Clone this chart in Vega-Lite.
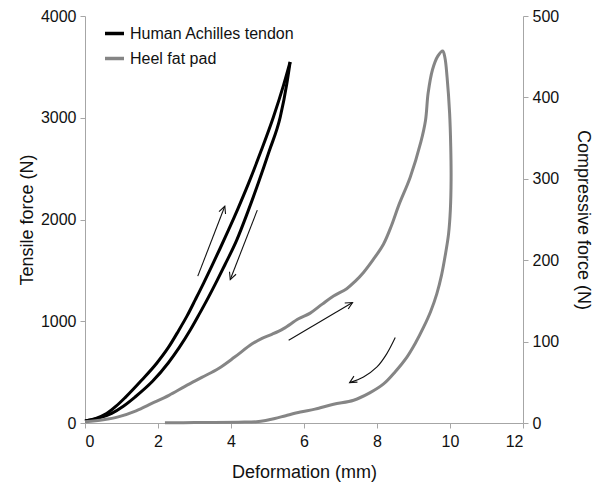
{
  "$schema": "https://vega.github.io/schema/vega-lite/v6.json",
  "width": 438,
  "height": 407,
  "autosize": {"type": "none"},
  "padding": {"left": 85, "top": 16, "right": 75, "bottom": 60},
  "background": "white",
  "config": {
    "font": "Liberation Sans",
    "view": {"stroke": null},
    "axis": {
      "grid": false,
      "domainColor": "#a6a6a6",
      "tickColor": "#a6a6a6",
      "tickSize": 5,
      "labelFontSize": 16,
      "labelColor": "#111111",
      "titleFontSize": 18,
      "titleFontWeight": "normal",
      "titleColor": "#111111",
      "labelPadding": 4,
      "format": "d"
    },
    "legend": {
      "orient": "none",
      "legendX": 18,
      "legendY": 6,
      "padding": 0,
      "labelFontSize": 16,
      "labelColor": "#111111",
      "labelLimit": 400,
      "symbolType": "stroke",
      "symbolSize": 361,
      "symbolStrokeWidth": 3.5,
      "labelOffset": 4,
      "rowPadding": 5,
      "title": null
    }
  },
  "datasets": {
    "tendon": [
      {"c": "load", "i": 0, "x": 0, "f": 20},
      {"c": "load", "i": 1, "x": 0.3, "f": 45},
      {"c": "load", "i": 2, "x": 0.59, "f": 92},
      {"c": "load", "i": 3, "x": 0.85, "f": 165},
      {"c": "load", "i": 4, "x": 1.1, "f": 250},
      {"c": "load", "i": 5, "x": 1.55, "f": 420},
      {"c": "load", "i": 6, "x": 1.97, "f": 590},
      {"c": "load", "i": 7, "x": 2.28, "f": 740},
      {"c": "load", "i": 8, "x": 2.56, "f": 905},
      {"c": "load", "i": 9, "x": 2.8, "f": 1055},
      {"c": "load", "i": 10, "x": 3.02, "f": 1210},
      {"c": "load", "i": 11, "x": 3.25, "f": 1375},
      {"c": "load", "i": 12, "x": 3.47, "f": 1540},
      {"c": "load", "i": 13, "x": 3.7, "f": 1715},
      {"c": "load", "i": 14, "x": 3.93, "f": 1895},
      {"c": "load", "i": 15, "x": 4.2, "f": 2115},
      {"c": "load", "i": 16, "x": 4.48, "f": 2355},
      {"c": "load", "i": 17, "x": 4.82, "f": 2670},
      {"c": "load", "i": 18, "x": 5.16, "f": 3005},
      {"c": "load", "i": 19, "x": 5.44, "f": 3320},
      {"c": "load", "i": 20, "x": 5.62, "f": 3548},
      {"c": "unload", "i": 0, "x": 5.62, "f": 3548},
      {"c": "unload", "i": 1, "x": 5.53, "f": 3336},
      {"c": "unload", "i": 2, "x": 5.35, "f": 3008},
      {"c": "unload", "i": 3, "x": 5.05, "f": 2675},
      {"c": "unload", "i": 4, "x": 4.75, "f": 2360},
      {"c": "unload", "i": 5, "x": 4.45, "f": 2065},
      {"c": "unload", "i": 6, "x": 4.16, "f": 1800},
      {"c": "unload", "i": 7, "x": 3.84, "f": 1560},
      {"c": "unload", "i": 8, "x": 3.61, "f": 1395},
      {"c": "unload", "i": 9, "x": 3.38, "f": 1235},
      {"c": "unload", "i": 10, "x": 3.13, "f": 1070},
      {"c": "unload", "i": 11, "x": 2.88, "f": 911},
      {"c": "unload", "i": 12, "x": 2.58, "f": 740},
      {"c": "unload", "i": 13, "x": 2.28, "f": 590},
      {"c": "unload", "i": 14, "x": 1.85, "f": 410},
      {"c": "unload", "i": 15, "x": 1.37, "f": 255},
      {"c": "unload", "i": 16, "x": 1.05, "f": 165},
      {"c": "unload", "i": 17, "x": 0.73, "f": 95},
      {"c": "unload", "i": 18, "x": 0.35, "f": 45},
      {"c": "unload", "i": 19, "x": 0, "f": 20}
    ],
    "fatpad": [
      {"i": 0, "x": 0, "f": 1.5},
      {"i": 1, "x": 0.5, "f": 4},
      {"i": 2, "x": 0.91, "f": 7.5},
      {"i": 3, "x": 1.4, "f": 15},
      {"i": 4, "x": 1.83, "f": 24},
      {"i": 5, "x": 2.3, "f": 34},
      {"i": 6, "x": 2.74, "f": 45},
      {"i": 7, "x": 3.2, "f": 56},
      {"i": 8, "x": 3.66, "f": 67},
      {"i": 9, "x": 4.1, "f": 81},
      {"i": 10, "x": 4.57, "f": 97},
      {"i": 11, "x": 4.85, "f": 104},
      {"i": 12, "x": 5.12, "f": 109},
      {"i": 13, "x": 5.44, "f": 116},
      {"i": 14, "x": 5.85, "f": 128},
      {"i": 15, "x": 6.17, "f": 135},
      {"i": 16, "x": 6.5, "f": 146},
      {"i": 17, "x": 6.81, "f": 156},
      {"i": 18, "x": 7.17, "f": 165},
      {"i": 19, "x": 7.4, "f": 174},
      {"i": 20, "x": 7.63, "f": 185},
      {"i": 21, "x": 7.9, "f": 201},
      {"i": 22, "x": 8.18, "f": 220},
      {"i": 23, "x": 8.4, "f": 243},
      {"i": 24, "x": 8.6, "f": 268},
      {"i": 25, "x": 8.91, "f": 302},
      {"i": 26, "x": 9.2, "f": 345},
      {"i": 27, "x": 9.33, "f": 372},
      {"i": 28, "x": 9.4, "f": 405},
      {"i": 29, "x": 9.52, "f": 434},
      {"i": 30, "x": 9.67, "f": 451},
      {"i": 31, "x": 9.8, "f": 457},
      {"i": 32, "x": 9.86, "f": 449},
      {"i": 33, "x": 9.92, "f": 425},
      {"i": 34, "x": 9.99, "f": 380},
      {"i": 35, "x": 10.02, "f": 340},
      {"i": 36, "x": 10.03, "f": 300},
      {"i": 37, "x": 10.01, "f": 262},
      {"i": 38, "x": 9.96, "f": 232},
      {"i": 39, "x": 9.87, "f": 206},
      {"i": 40, "x": 9.77, "f": 182},
      {"i": 41, "x": 9.64, "f": 159},
      {"i": 42, "x": 9.47, "f": 137},
      {"i": 43, "x": 9.28, "f": 118},
      {"i": 44, "x": 9.05, "f": 98},
      {"i": 45, "x": 8.82, "f": 81},
      {"i": 46, "x": 8.5, "f": 63},
      {"i": 47, "x": 8.18, "f": 48},
      {"i": 48, "x": 7.8, "f": 37},
      {"i": 49, "x": 7.36, "f": 28},
      {"i": 50, "x": 6.81, "f": 23},
      {"i": 51, "x": 6.3, "f": 17},
      {"i": 52, "x": 5.9, "f": 13.5},
      {"i": 53, "x": 5.5, "f": 9},
      {"i": 54, "x": 5.2, "f": 5.5},
      {"i": 55, "x": 4.95, "f": 3},
      {"i": 56, "x": 4.7, "f": 1.5},
      {"i": 57, "x": 4.2, "f": 1},
      {"i": 58, "x": 3.0, "f": 0.5},
      {"i": 59, "x": 2.19, "f": 0.3}
    ],
    "arrows": [
      {"a": 1, "i": 0, "x": 3.09, "f": 1443},
      {"a": 1, "i": 1, "x": 3.83, "f": 2130},
      {"a": 2, "i": 0, "x": 4.72, "f": 2092},
      {"a": 2, "i": 1, "x": 3.98, "f": 1410},
      {"a": 3, "i": 0, "x": 5.58, "f": 813},
      {"a": 3, "i": 1, "x": 7.33, "f": 1184},
      {"a": 4, "i": 0, "x": 8.5, "f": 840},
      {"a": 4, "i": 1, "x": 8.27, "f": 682},
      {"a": 4, "i": 2, "x": 8.0, "f": 551},
      {"a": 4, "i": 3, "x": 7.63, "f": 452},
      {"a": 4, "i": 4, "x": 7.25, "f": 397}
    ],
    "heads": [
      {"a": 1, "x": 3.83, "f": 2130},
      {"a": 2, "x": 3.98, "f": 1410},
      {"a": 3, "x": 7.33, "f": 1184},
      {"a": 4, "x": 7.25, "f": 397}
    ]
  },
  "encoding": {
    "x": {
      "field": "x",
      "type": "quantitative",
      "scale": {"domain": [0, 12], "nice": false, "zero": false},
      "axis": {
        "values": [0, 2, 4, 6, 8, 10, 12],
        "title": "Deformation (mm)",
        "titleY": 54,
        "titleBaseline": "alphabetic",
        "labelPadding": 5
      }
    }
  },
  "layer": [
    {
      "encoding": {
        "y": {
          "field": "f",
          "type": "quantitative",
          "scale": {"domain": [0, 4000], "nice": false},
          "axis": {
            "orient": "left",
            "values": [0, 1000, 2000, 3000, 4000],
            "title": "Tensile force (N)",
            "titleAngle": -90,
            "titleX": -58,
            "titleY": 203.5,
            "titleBaseline": "middle",
            "titleAlign": "center"
          }
        }
      },
      "layer": [
        {
          "data": {"name": "tendon"},
          "mark": {"type": "line", "strokeWidth": 3, "strokeJoin": "round", "interpolate": "monotone"},
          "encoding": {
            "detail": {"field": "c"},
            "order": {"field": "i", "type": "quantitative"},
            "color": {
              "datum": "Human Achilles tendon",
              "type": "nominal",
              "scale": {"domain": ["Human Achilles tendon", "Heel fat pad"], "range": ["#000000", "#858585"]}
            }
          }
        },
        {
          "data": {"name": "arrows"},
          "mark": {"type": "line", "strokeWidth": 1.1, "color": "#111111", "interpolate": "cardinal"},
          "encoding": {
            "detail": {"field": "a"},
            "order": {"field": "i", "type": "quantitative"}
          }
        },
        {
          "data": {"name": "heads"},
          "transform": [{"filter": "datum.a == 1"}],
          "mark": {"type": "point", "shape": "M -0.5 1 L 0 0 L 0.5 1", "filled": false, "size": 196, "strokeWidth": 1.1, "color": "#111111", "opacity": 1, "angle": 21}
        },
        {
          "data": {"name": "heads"},
          "transform": [{"filter": "datum.a == 2"}],
          "mark": {"type": "point", "shape": "M -0.5 1 L 0 0 L 0.5 1", "filled": false, "size": 196, "strokeWidth": 1.1, "color": "#111111", "opacity": 1, "angle": 201}
        },
        {
          "data": {"name": "heads"},
          "transform": [{"filter": "datum.a == 3"}],
          "mark": {"type": "point", "shape": "M -0.5 1 L 0 0 L 0.5 1", "filled": false, "size": 196, "strokeWidth": 1.1, "color": "#111111", "opacity": 1, "angle": 60}
        },
        {
          "data": {"name": "heads"},
          "transform": [{"filter": "datum.a == 4"}],
          "mark": {"type": "point", "shape": "M -0.5 1 L 0 0 L 0.5 1", "filled": false, "size": 196, "strokeWidth": 1.1, "color": "#111111", "opacity": 1, "angle": 240}
        }
      ]
    },
    {
      "data": {"name": "fatpad"},
      "mark": {"type": "line", "strokeWidth": 3, "strokeJoin": "round", "interpolate": "catmull-rom"},
      "encoding": {
        "y": {
          "field": "f",
          "type": "quantitative",
          "scale": {"domain": [0, 500], "nice": false},
          "axis": {
            "orient": "right",
            "values": [0, 100, 200, 300, 400, 500],
            "title": "Compressive force (N)",
            "titleAngle": 90,
            "titleX": 59,
            "titleY": 203.5,
            "titleBaseline": "middle",
            "titleAlign": "center"
          }
        },
        "order": {"field": "i", "type": "quantitative"},
        "color": {
          "datum": "Heel fat pad",
          "type": "nominal",
          "scale": {"domain": ["Human Achilles tendon", "Heel fat pad"], "range": ["#000000", "#858585"]}
        }
      }
    }
  ],
  "resolve": {"scale": {"y": "independent"}}
}
